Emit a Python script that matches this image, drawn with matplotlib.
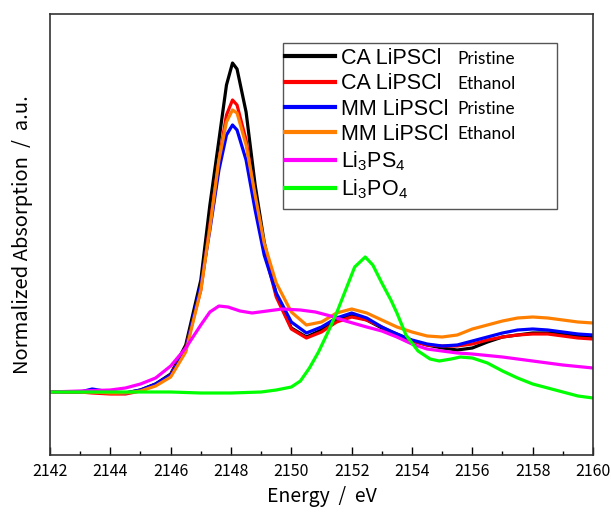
import matplotlib
matplotlib.use("Agg")
import matplotlib.pyplot as plt
from matplotlib.patches import Rectangle

plt.rcParams["mathtext.fontset"] = "custom"
plt.rcParams["mathtext.rm"] = "Liberation Sans"
plt.rcParams["mathtext.it"] = "Liberation Sans:italic"

# S K-edge XANES
energy = [2142, 2143, 2143.4, 2144, 2144.5, 2145, 2145.5, 2146, 2146.5, 2147,
          2147.3, 2147.6, 2147.85, 2148.05, 2148.2, 2148.5, 2148.8, 2149.1, 2149.5, 2150,
          2150.5, 2151, 2151.5, 2152, 2152.5, 2153, 2153.5, 2154, 2154.5, 2155,
          2155.5, 2156, 2156.5, 2157, 2157.5, 2158, 2158.5, 2159, 2159.5, 2160]

ca_pristine = [0.00, 0.00, 0.00, -0.01, -0.01, 0.02, 0.08, 0.18, 0.47, 1.12,
               1.87, 2.52, 3.07, 3.29, 3.23, 2.80, 2.07, 1.50, 0.97, 0.64,
               0.55, 0.62, 0.72, 0.77, 0.72, 0.64, 0.58, 0.51, 0.47, 0.44,
               0.42, 0.44, 0.50, 0.55, 0.57, 0.59, 0.59, 0.58, 0.56, 0.55]

ca_ethanol = [0.00, 0.00, -0.01, -0.02, -0.02, 0.01, 0.07, 0.17, 0.44, 1.02,
              1.67, 2.32, 2.77, 2.92, 2.87, 2.52, 1.92, 1.42, 0.95, 0.63,
              0.54, 0.60, 0.70, 0.75, 0.72, 0.65, 0.57, 0.51, 0.47, 0.46,
              0.46, 0.48, 0.52, 0.55, 0.57, 0.58, 0.58, 0.56, 0.54, 0.53]

mm_pristine = [0.00, 0.00, 0.03, 0.00, -0.01, 0.02, 0.08, 0.17, 0.42, 1.07,
               1.62, 2.22, 2.57, 2.67, 2.62, 2.32, 1.82, 1.37, 0.99, 0.70,
               0.59, 0.65, 0.74, 0.79, 0.74, 0.65, 0.58, 0.52, 0.48, 0.46,
               0.47, 0.51, 0.55, 0.59, 0.62, 0.63, 0.62, 0.60, 0.58, 0.57]

mm_ethanol = [0.00, 0.00, 0.00, -0.01, -0.01, 0.01, 0.06, 0.15, 0.40, 1.02,
              1.64, 2.32, 2.70, 2.82, 2.79, 2.47, 1.97, 1.49, 1.09, 0.80,
              0.67, 0.70, 0.79, 0.83, 0.79, 0.72, 0.65, 0.60, 0.56, 0.55,
              0.57, 0.63, 0.67, 0.71, 0.74, 0.75, 0.74, 0.72, 0.70, 0.69]

e_ps4 = [2142, 2143, 2144, 2144.5, 2145, 2145.5, 2146, 2146.5, 2147, 2147.3,
         2147.6, 2147.9, 2148.3, 2148.7, 2149.2, 2149.7, 2150.3, 2150.8, 2151.3, 2151.8,
         2152.5, 2153, 2153.5, 2154, 2154.5, 2155, 2155.5, 2156, 2157, 2158, 2159, 2160]
li3ps4 = [0.00, 0.01, 0.02, 0.04, 0.08, 0.14, 0.26, 0.44, 0.67, 0.80,
          0.86, 0.85, 0.81, 0.79, 0.81, 0.83, 0.82, 0.80, 0.76, 0.71,
          0.65, 0.61, 0.55, 0.48, 0.43, 0.41, 0.39, 0.38, 0.35, 0.31, 0.27, 0.24]

e_po4 = [2142, 2144, 2146, 2147, 2148, 2149, 2149.5, 2150, 2150.3, 2150.6,
         2150.9, 2151.2, 2151.5, 2151.8, 2152.1, 2152.45, 2152.7, 2153, 2153.3, 2153.5,
         2153.8, 2154.2, 2154.6, 2154.9, 2155.3, 2155.6, 2156, 2156.5, 2157, 2157.5,
         2158, 2158.5, 2159, 2159.5, 2160]
li3po4 = [0.00, 0.00, 0.00, -0.01, -0.01, 0.00, 0.02, 0.05, 0.11, 0.24,
          0.40, 0.59, 0.79, 1.02, 1.25, 1.35, 1.27, 1.09, 0.92, 0.79,
          0.57, 0.41, 0.33, 0.31, 0.33, 0.35, 0.34, 0.29, 0.21, 0.14,
          0.08, 0.04, 0.00, -0.04, -0.06]

labels = ["CA LiPSCl", "CA LiPSCl", "MM LiPSCl", "MM LiPSCl",
          "Li$_3$PS$_4$", "Li$_3$PO$_4$"]
notes = ["Pristine", "Ethanol", "Pristine", "Ethanol"]
colors = ["#000000", "#ff0000", "#0000ff", "#ff8000", "#ff00ff", "#00ff00"]

fig = plt.figure(figsize=(6.11, 5.13), dpi=100)
ax = fig.add_axes([50 / 611, 58 / 513, 543 / 611, 441 / 513])

series = [(energy, ca_pristine), (energy, ca_ethanol), (energy, mm_pristine),
          (energy, mm_ethanol), (e_ps4, li3ps4), (e_po4, li3po4)]
lines = []
for (x, y), c, lab in zip(series, colors, labels):
    ln, = ax.plot(x, y, color=c, lw=2.3, label=lab)
    lines.append(ln)

ax.set_xlim(2142, 2160)
ax.set_ylim(-0.63, 3.78)
ax.set_xticks(range(2142, 2161, 2))
ax.set_xticks(range(2143, 2160, 2), minor=True)
ax.set_yticks([])
ax.tick_params(axis="x", which="major", direction="in", length=6, width=1, pad=6)
ax.tick_params(axis="x", which="minor", direction="in", length=3, width=1)
for lab in ax.get_xticklabels():
    lab.set_fontfamily("Noto Sans CJK JP")
    lab.set_fontsize(11.5)
for sp in ax.spines.values():
    sp.set_color("#333333")
    sp.set_linewidth(1.2)

ax.set_xlabel("Energy  /  eV", fontfamily="Noto Sans CJK JP", fontsize=14, labelpad=4)
ax.set_ylabel("Normalized Absorption  /  a.u.", fontfamily="Noto Sans CJK JP",
              fontsize=14.5, labelpad=12)

# legend frame drawn separately so it can hold the extra notes
ax.add_patch(Rectangle((233 / 543, 246 / 441), 274 / 543, 166 / 441,
                       transform=ax.transAxes, fill=False, edgecolor="#555555",
                       lw=1, zorder=5))
leg = ax.legend(handles=lines, loc="upper left", bbox_to_anchor=(235 / 543, 407 / 441),
                frameon=False, prop={"family": "Liberation Sans", "size": 15.5},
                handlelength=2.3, handletextpad=0.3, labelspacing=0.2,
                borderpad=0, borderaxespad=0)
for h in leg.legend_handles:
    h.set_linewidth(3)

fig.canvas.draw()
inv = ax.transAxes.inverted()
for t, note in zip(leg.get_texts()[:4], notes):
    bb = t.get_window_extent()
    yc = inv.transform((0, (bb.y0 + bb.y1) / 2))[1]
    ax.text(407 / 543, yc, note, transform=ax.transAxes, va="center", ha="left",
            fontfamily="Lato", fontsize=12.5)

fig.savefig("out.png", dpi=100)
